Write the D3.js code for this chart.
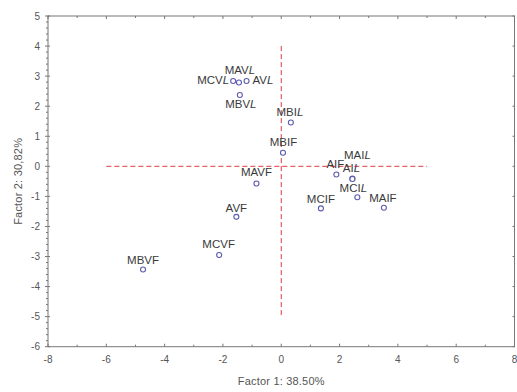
<!DOCTYPE html>
<html>
<head>
<meta charset="utf-8">
<script src="https://cdn.jsdelivr.net/npm/d3@7"></script>
<style>
  body { margin: 0; background: #fff; }
  svg { display: block; font-family: "Liberation Sans", Arial, sans-serif; }
</style>
</head>
<body>
<svg id="chart" width="517" height="392"></svg>
<script>
// Factor scores (factor 1, factor 2)
const names = ["MCVL", "MAVL", "AVL", "MBVL", "MBIL", "MBIF", "MAVF", "AIF", "MAIL", "AIL",
               "MCIL", "MCIF", "MAIF", "AVF", "MCVF", "MBVF"];
const factor1 = [-1.65, -1.45, -1.19, -1.42, 0.33, 0.06, -0.85, 1.89, 2.44, 2.44,
                 2.61, 1.36, 3.52, -1.54, -2.13, -4.74];
const factor2 = [2.84, 2.79, 2.84, 2.37, 1.46, 0.45, -0.57, -0.27, -0.41, -0.42,
                 -1.03, -1.40, -1.38, -1.68, -2.95, -3.43];
const xTicks = [-8, -6, -4, -2, 0, 2, 4, 6, 8];
const yTicks = [5, 4, 3, 2, 1, 0, -1, -2, -3, -4, -5, -6];
const xTitle = "Factor 1: 38.50%";
const yTitle = "Factor 2: 30,82%";

// label placement relative to its point: [dx, dy, anchor]
const labelPos = {
  MCVL: [-4, 3.5, "end"], MAVL: [1, -8.5, "middle"], AVL: [6, 3.5, "start"],
  MBVL: [1, 13, "middle"], MBIL: [-1, -6.5, "middle"], MBIF: [0.5, -7, "middle"],
  MAVF: [0, -7.3, "middle"], AIF: [-1, -6, "middle"], MAIL: [5, -20, "middle"],
  AIL: [-1, -7.3, "middle"], MCIL: [-4, -5.6, "middle"], MCIF: [0, -5, "middle"],
  MAIF: [-1, -6, "middle"], AVF: [0, -5, "middle"], MCVF: [-0.5, -6.7, "middle"],
  MBVF: [0, -5.3, "middle"]
};

const svg = d3.select("#chart");
const mLeft = 48, mRight = 514.5, mTop = 16, mBottom = 346.7;

const x = d3.scaleLinear().domain([-8, 8]).range([mLeft, mRight]);
const y = d3.scaleLinear().domain([-6, 5]).range([mBottom, mTop]);

const axisColor = "#777";
const tickText = "#555";

// frame
svg.append("rect")
    .attr("x", mLeft).attr("y", mTop)
    .attr("width", mRight - mLeft).attr("height", mBottom - mTop)
    .attr("fill", "none").attr("stroke", axisColor).attr("stroke-width", 1);

const g = svg.append("g");

// left axis: major + minor ticks
d3.range(-6, 5.001, 0.2).forEach(v => {
    const major = Math.abs(v - Math.round(v)) < 1e-6;
    g.append("line")
        .attr("x1", mLeft - (major ? 3 : 2)).attr("x2", mLeft + (major ? 2 : 0))
        .attr("y1", y(v)).attr("y2", y(v))
        .attr("stroke", axisColor);
});
// right axis ticks
d3.range(-6, 6).forEach(v => {
    g.append("line")
        .attr("x1", mRight - 2).attr("x2", mRight)
        .attr("y1", y(v)).attr("y2", y(v))
        .attr("stroke", axisColor);
});
// top and bottom ticks
d3.range(-8, 9).forEach(v => {
    const major = v % 2 === 0;
    g.append("line")
        .attr("x1", x(v)).attr("x2", x(v))
        .attr("y1", mTop).attr("y2", mTop + (major ? 3 : 2))
        .attr("stroke", axisColor);
    g.append("line")
        .attr("x1", x(v)).attr("x2", x(v))
        .attr("y1", mBottom).attr("y2", mBottom - (major ? 3 : 2))
        .attr("stroke", axisColor);
});

// tick labels
svg.append("g").selectAll("text")
    .data(yTicks).join("text")
    .attr("x", mLeft - 8).attr("y", d => y(d) + 3.5)
    .attr("text-anchor", "end")
    .attr("font-size", "10px").attr("fill", tickText)
    .text(d => d);

svg.append("g").selectAll("text")
    .data(xTicks).join("text")
    .attr("x", d => x(d)).attr("y", 363)
    .attr("text-anchor", "middle")
    .attr("font-size", "10px").attr("fill", tickText)
    .text(d => d);

// axis titles
svg.append("text")
    .attr("x", (mLeft + mRight) / 2).attr("y", 385)
    .attr("text-anchor", "middle")
    .attr("font-size", "11px").attr("letter-spacing", "0.2px").attr("fill", tickText)
    .text(xTitle);

svg.append("text")
    .attr("transform", `translate(22,${(mTop + mBottom) / 2}) rotate(-90)`)
    .attr("text-anchor", "middle")
    .attr("font-size", "11px").attr("letter-spacing", "0.2px").attr("fill", tickText)
    .text(yTitle);

// dashed reference lines through the origin
svg.append("line")
    .attr("x1", x(-6)).attr("x2", x(5))
    .attr("y1", y(0)).attr("y2", y(0))
    .attr("stroke", "#e0393e").attr("stroke-width", 1)
    .attr("stroke-dasharray", "5,3");
svg.append("line")
    .attr("x1", x(0)).attr("x2", x(0))
    .attr("y1", y(4)).attr("y2", y(-5))
    .attr("stroke", "#e0393e").attr("stroke-width", 1)
    .attr("stroke-dasharray", "5,3");

const pts = names.map((n, i) => ({ name: n, f1: factor1[i], f2: factor2[i] }));

// labels
const labels = svg.append("g").selectAll("text")
    .data(pts).join("text")
    .attr("x", d => x(d.f1) + labelPos[d.name][0])
    .attr("y", d => y(d.f2) + labelPos[d.name][1])
    .attr("text-anchor", d => labelPos[d.name][2])
    .attr("font-size", "11.5px").attr("fill", "#3a3a3a");

labels.each(function(d) {
    const t = d3.select(this);
    const last = d.name.slice(-1);
    t.append("tspan").text(d.name.slice(0, -1));
    t.append("tspan")
        .attr("font-style", last === "L" ? "italic" : "normal")
        .text(last);
});

// points
svg.append("g").selectAll("circle")
    .data(pts).join("circle")
    .attr("cx", d => x(d.f1))
    .attr("cy", d => y(d.f2))
    .attr("r", 2.5)
    .attr("fill", "#fff")
    .attr("stroke", "#5b5bb0")
    .attr("stroke-width", 1.1);
</script>
</body>
</html>
